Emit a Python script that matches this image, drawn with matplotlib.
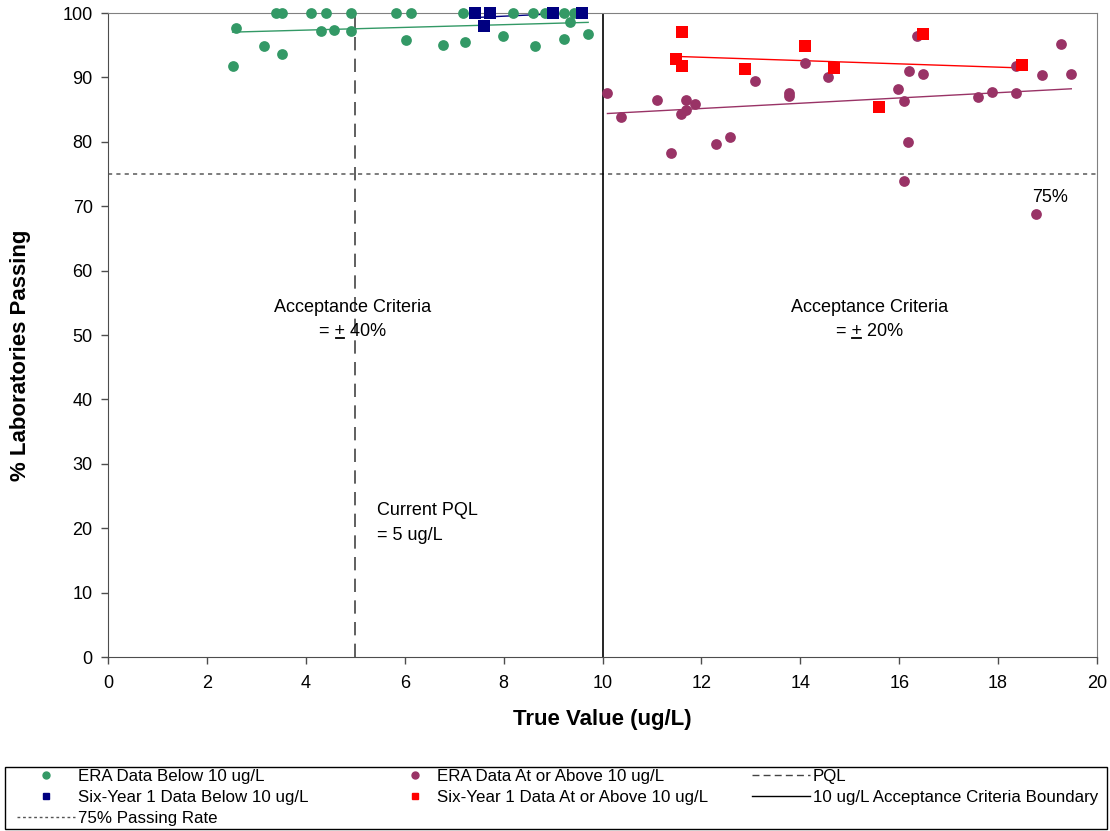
import numpy as np
import matplotlib
matplotlib.use("Agg")
import matplotlib.pyplot as plt
from matplotlib.lines import Line2D
from matplotlib.patches import Rectangle

plt.rcParams['font.family'] = ['Liberation Sans', 'DejaVu Sans']

# ERA data below 10 ug/L
era_below_x = [2.52, 2.59, 3.15, 3.51, 3.40, 3.51, 4.11, 4.41, 4.92, 5.82, 6.13,
               4.30, 4.58, 4.92, 6.02, 7.17, 8.18, 8.60, 8.84, 9.22, 9.42,
               9.34, 6.78, 7.21, 7.99, 8.63, 9.23, 9.71]
era_below_y = [91.7, 97.7, 94.9, 93.6, 100, 100, 100, 100, 100, 100, 100,
               97.2, 97.4, 97.2, 95.8, 100, 100, 100, 100, 100, 100,
               98.6, 95.1, 95.5, 96.4, 94.9, 96.0, 96.7]

# Six-Year 1 data below 10 ug/L
six_below_x = [7.43, 7.73, 7.60, 9.00, 9.59]
six_below_y = [100, 100, 98.0, 100, 100]

# ERA data at or above 10 ug/L
era_above_x = [10.10, 10.38, 11.10, 11.39, 11.68, 11.68, 11.59, 11.88, 12.30, 12.58,
               13.08, 13.78, 13.78, 14.10, 14.57, 16.37, 16.19, 16.49, 15.98, 16.10,
               16.18, 16.10, 17.59, 17.87, 18.37, 18.37, 18.88, 19.28, 19.48, 18.77]
era_above_y = [87.6, 83.9, 86.5, 78.3, 86.5, 84.9, 84.3, 85.9, 79.6, 80.7,
               89.5, 87.6, 87.1, 92.3, 90.1, 96.4, 91.0, 90.6, 88.2, 86.3,
               80.0, 73.9, 87.0, 87.8, 87.6, 91.7, 90.4, 95.2, 90.6, 68.8]

# Six-Year 1 data at or above 10 ug/L
six_above_x = [11.60, 11.49, 11.60, 12.89, 14.10, 14.69, 15.59, 16.49, 18.48]
six_above_y = [97.1, 92.8, 91.7, 91.3, 94.8, 91.5, 85.4, 96.8, 91.9]

pql_value = 5
boundary_value = 10
passing_rate = 75

c_green = '#339966'
c_purple = '#993366'
c_blue = '#000080'
c_red = '#FF0000'

FS = 13

fig = plt.figure(figsize=(11.10, 8.31), dpi=100)
ax = fig.add_axes([108/1110, 1 - 657/831, (1097-108)/1110, (657-13)/831])

def trend(x, y, color):
    x = np.asarray(x); y = np.asarray(y)
    p = np.polyfit(x, y, 1)
    xs = np.array([x.min(), x.max()])
    ax.plot(xs, np.polyval(p, xs), color=color, lw=1.0, zorder=2)

ax.axhline(passing_rate, color='#666666', lw=1.2, ls=(0, (2.5, 2.5)), zorder=1)
ax.axvline(pql_value, color='#444444', lw=1.2, ls=(0, (8, 5)), zorder=1)
ax.axvline(boundary_value, color='black', lw=1.2, zorder=1)

ax.scatter(era_below_x, era_below_y, s=60, color=c_green, marker='o', zorder=3, linewidths=0, clip_on=False)
ax.scatter(era_above_x, era_above_y, s=60, color=c_purple, marker='o', zorder=3, linewidths=0, clip_on=False)
ax.scatter(six_below_x, six_below_y, s=64, color=c_blue, marker='s', zorder=4, linewidths=0, clip_on=False)
ax.scatter(six_above_x, six_above_y, s=64, color=c_red, marker='s', zorder=4, linewidths=0, clip_on=False)

trend(era_below_x, era_below_y, c_green)
trend(six_below_x, six_below_y, c_blue)
trend(era_above_x, era_above_y, c_purple)
trend(six_above_x, six_above_y, c_red)

ax.set_xlim(0, 20)
ax.set_ylim(0, 100)
ax.set_xticks(np.arange(0, 21, 2))
ax.set_yticks(np.arange(0, 101, 10))
ax.tick_params(direction='out', length=5, labelsize=FS, width=1, colors='#4d4d4d', labelcolor='black')
ax.tick_params(axis='x', pad=8)
ax.tick_params(axis='y', pad=6)
for s in ['top', 'right']:
    ax.spines[s].set_color('#808080')
for s in ['left', 'bottom']:
    ax.spines[s].set_color('#4d4d4d')

ax.set_xlabel('True Value (ug/L)', fontsize=16, fontweight='bold', labelpad=12)
ax.set_ylabel('% Laboratories Passing', fontsize=16, fontweight='bold')
ax.yaxis.set_label_coords((31 - 108) / 989, (657 - 355) / 644)

ax.text(4.95, 54.3, 'Acceptance Criteria', ha='center', va='center', fontsize=FS)
ax.text(15.4, 54.3, 'Acceptance Criteria', ha='center', va='center', fontsize=FS)
ax.text(5.44, 22.8, 'Current PQL', ha='left', va='center', fontsize=FS)
ax.text(5.44, 18.9, '= 5 ug/L', ha='left', va='center', fontsize=FS)
ax.text(19.05, 71.4, '75%', ha='center', va='center', fontsize=FS)

fig.canvas.draw()
renderer = fig.canvas.get_renderer()

def pm_text(xc, yc, pct):
    full = '= + ' + pct
    t = ax.text(xc, yc, full, ha='center', va='center', fontsize=FS)
    bb = t.get_window_extent(renderer)
    pre = ax.text(0, 0, '= ', fontsize=FS)
    plus = ax.text(0, 0, '+', fontsize=FS)
    w_pre = pre.get_window_extent(renderer).width
    w_plus = plus.get_window_extent(renderer).width
    pre.remove(); plus.remove()
    x0 = bb.x0 + w_pre + 1
    x1 = x0 + w_plus - 2
    yl = bb.y0 + 2
    inv = ax.transData.inverted()
    (dx0, dy), (dx1, _) = inv.transform([(x0, yl), (x1, yl)])
    ax.plot([dx0, dx1], [dy, dy], color='black', lw=1.3, zorder=5)

pm_text(4.95, 50.6, '40%')
pm_text(15.4, 50.6, '20%')

# Legend: frame + three columns
fig.patches.append(Rectangle((5/1110, 2/831), 1102/1110, 62/831, transform=fig.transFigure,
                             fill=False, edgecolor='black', lw=1.0))

h_era_b = Line2D([], [], ls='none', marker='o', color=c_green, markersize=5)
h_six_b = Line2D([], [], ls='none', marker='s', color=c_blue, markersize=5)
h_75 = Line2D([], [], color='#555555', lw=1, ls=(0, (2, 2)))
h_era_a = Line2D([], [], ls='none', marker='o', color=c_purple, markersize=5)
h_six_a = Line2D([], [], ls='none', marker='s', color=c_red, markersize=5)
h_pql = Line2D([], [], color='#444444', lw=1, ls=(0, (5, 3)))
h_bnd = Line2D([], [], color='black', lw=1)

LFS = 12.2
common = dict(loc='upper left', frameon=False, fontsize=LFS, borderpad=0, borderaxespad=0,
              labelspacing=0.36)
top = 1 - 769/831
leg1 = fig.legend([h_era_b, h_six_b, h_75],
                  ['ERA Data Below 10 ug/L', 'Six-Year 1 Data Below 10 ug/L', '75% Passing Rate'],
                  bbox_to_anchor=(17/1110, top), handlelength=58*0.72/LFS,
                  handletextpad=0.15, **common)
leg2 = fig.legend([h_era_a, h_six_a],
                  ['ERA Data At or Above 10 ug/L', 'Six-Year 1 Data At or Above 10 ug/L'],
                  bbox_to_anchor=(402/1110, top), handlelength=26*0.72/LFS,
                  handletextpad=0.55, **common)
leg3 = fig.legend([h_pql, h_bnd],
                  ['PQL', '10 ug/L Acceptance Criteria Boundary'],
                  bbox_to_anchor=(752/1110, top), handlelength=58*0.72/LFS,
                  handletextpad=0.15, **common)

fig.savefig('out.png', dpi=100)
